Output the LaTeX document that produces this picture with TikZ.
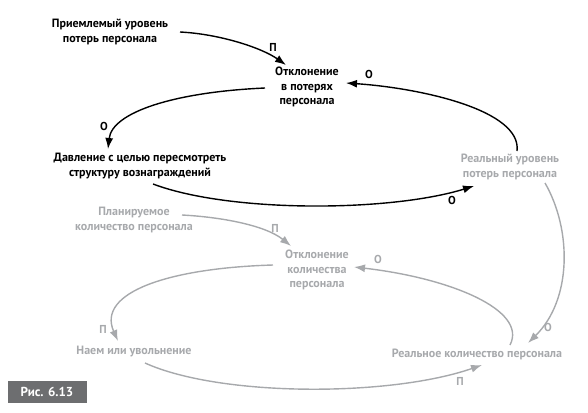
\documentclass[tikz,border=0pt]{standalone}
\usepackage{fontspec}
\setmainfont{PT Sans}
\usetikzlibrary{arrows.meta}
\definecolor{lg}{HTML}{A7A9AC}
\definecolor{boxg}{HTML}{6D6E70}
\begin{document}
\begin{tikzpicture}[x=1pt,y=-1pt,
  lbl/.style={font=\bfseries\fontsize{12}{14.5}\selectfont, align=center, inner sep=0pt},
  blk/.style={lbl, text=black},
  gry/.style={lbl, text=lg},
  sgn/.style={font=\bfseries\fontsize{11.5}{13}\selectfont, inner sep=0pt},
  arb/.style={line width=1.4pt, black, -{Latex[length=11pt,width=8pt]}},
  arg/.style={line width=1.4pt, lg, -{Latex[length=11pt,width=8pt]}}]
\useasboundingbox (0,0) rectangle (588,412);
% black nodes
\node[blk] (acc) at (110,32) {Приемлемый уровень\\потерь персонала};
\node[blk] (dev) at (307,87) {Отклонение\\в потерях\\персонала};
\node[blk] (pres) at (140,166) {Давление с целью пересмотреть\\структуру вознаграждений};
\node[gry] (real) at (510,167) {Реальный уровень\\потерь персонала};
% grey nodes
\node[gry] (plan) at (134,220) {Планируемое\\количество персонала};
\node[gry] (devq) at (317,270) {Отклонение\\количества\\персонала};
\node[gry] (hire) at (134,352) {Наем или увольнение};
\node[gry] (realq) at (477,354) {Реальное количество персонала};
% endpoints
\coordinate (c1s) at (180,32); \coordinate (c1e) at (286,65);
\coordinate (c2s) at (517,151); \coordinate (c2e) at (346,83);
\coordinate (c3s) at (265,88); \coordinate (c3e) at (108,149);
\coordinate (c4s) at (153,184); \coordinate (c4e) at (474,186);
\coordinate (c5s) at (182,215); \coordinate (c5e) at (291,246);
\coordinate (c6s) at (510,345); \coordinate (c6e) at (354,267);
\coordinate (c7s) at (273,265); \coordinate (c7e) at (118,341);
\coordinate (c8s) at (145,363); \coordinate (c8e) at (482,365);
\coordinate (c9s) at (545,183); \coordinate (c9e) at (528,343);
% black arrows
\draw[arb] (c1s) .. controls (220,34) and (262,48) .. (c1e);
\draw[arb] (c2s) .. controls (522,110) and (420,88) .. (c2e);
\draw[arb] (c3s) .. controls (175,92) and (112,112) .. (c3e);
\draw[arb] (c4s) .. controls (230,213) and (390,212) .. (c4e);
% grey arrows
\draw[arg] (c5s) .. controls (220,217) and (265,225) .. (c5e);
\draw[arg] (c6s) .. controls (528,310) and (450,278) .. (c6e);
\draw[arg] (c7s) .. controls (170,268) and (96,292) .. (c7e);
\draw[arg] (c8s) .. controls (220,397) and (390,397) .. (c8e);
\draw[arg] (c9s) .. controls (572,230) and (572,300) .. (c9e);
% signs
\node[sgn] (s1) at (273,47) {П};
\node[sgn] (s2) at (369,74) {О};
\node[sgn] (s3) at (104,126) {О};
\node[sgn] (s4) at (452,200) {О};
\node[sgn, text=lg] (s5) at (275,228) {П};
\node[sgn, text=lg] (s6) at (378,259) {О};
\node[sgn, text=lg] (s7) at (103,329) {П};
\node[sgn, text=lg] (s8) at (460,381) {П};
\node[sgn, text=lg] (s9) at (548,327) {О};
% figure label
\node[fill=boxg, text=white, minimum width=79pt, minimum height=22pt, inner sep=0pt,
  font=\bfseries\fontsize{13}{15}\selectfont] (fig) at (47,392) {Рис. 6.13};
\end{tikzpicture}
\end{document}
